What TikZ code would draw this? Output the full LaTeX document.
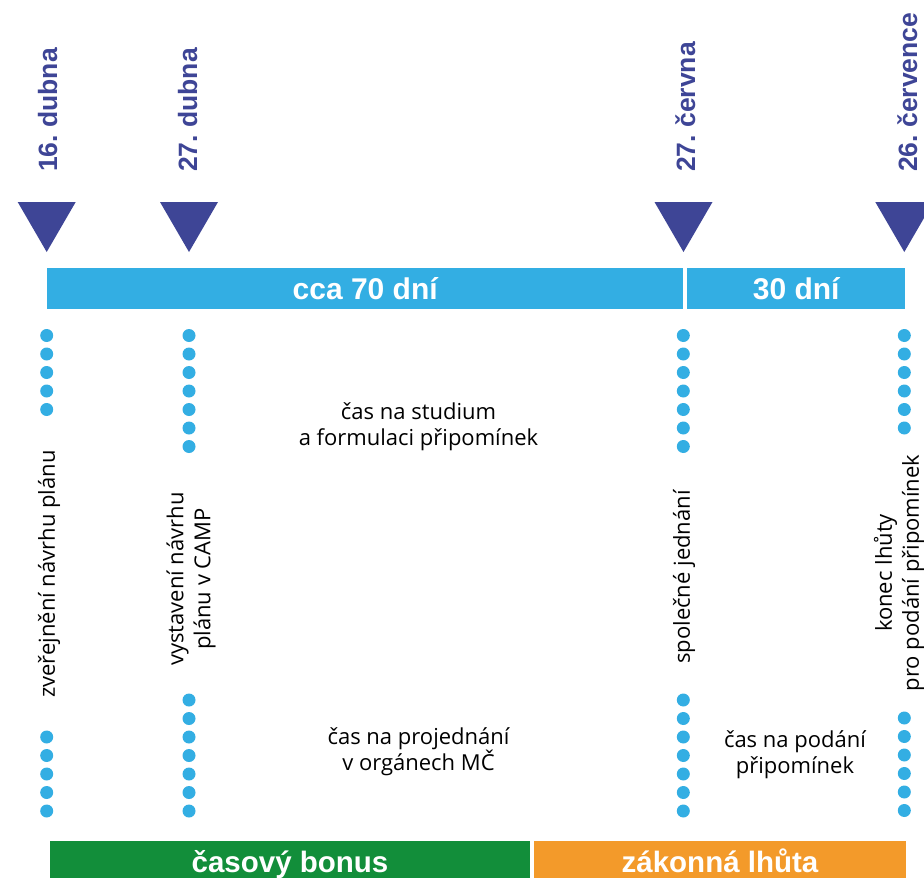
\documentclass[tikz,border=0pt]{standalone}
\usepackage{fontspec}
\setmainfont{Open Sans}
\newfontfamily\bfam{Liberation Sans}
\definecolor{tribl}{HTML}{3E4596}
\definecolor{skybl}{HTML}{33AEE3}
\definecolor{grn}{HTML}{128E3A}
\definecolor{org}{HTML}{F39A2A}
\frenchspacing
\begin{document}
\begin{tikzpicture}[x=1pt,y=-1pt,
  datelbl/.style={rotate=90,anchor=base west,inner sep=0pt,text=tribl,font=\bfam\bfseries\fontsize{26.5}{30}\selectfont},
  vlbl/.style={rotate=90,align=center,inner sep=0pt,font=\fontsize{22}{27}\selectfont},
  hlbl/.style={align=center,inner sep=0pt,font=\fontsize{22}{26}\selectfont},
  barlbl/.style={text=white,inner sep=0pt,font=\bfam\bfseries\fontsize{30}{36}\selectfont},
  botlbl/.style={text=white,inner sep=0pt,anchor=base,font=\bfam\bfseries\fontsize{29.5}{36}\selectfont},
  bar/.style={inner sep=0pt,anchor=north west},
  dotc/.style={fill=skybl},
]
\clip (0,0) rectangle (924,878);
\fill[white] (0,0) rectangle (924,878);
% triangles
\foreach \x in {46.7,189,683.5,904.3}
  \fill[tribl] (\x-29,202) -- (\x+29,202) -- (\x,252) -- cycle;
% date labels
\node[datelbl] (d1) at (57,172) {16. dubna};
\node[datelbl] (d2) at (197,172) {27. dubna};
\node[datelbl] (d3) at (695,172) {27. června};
\node[datelbl] (d4) at (917,172) {26. července};
% blue bars
\node[bar,fill=skybl,minimum width=636pt,minimum height=41pt,barlbl] (b1) at (47,268) {cca 70 dní};
\node[bar,fill=skybl,minimum width=218pt,minimum height=41pt,barlbl] (b2) at (687,268) {30 dní};
% dots
\foreach \x/\n in {46.7/4,189/6,683.3/6,904.3/5}
  \foreach \k in {0,...,\n}
    \fill[dotc] (\x,335.5+18.5*\k) circle (6.5);
\foreach \x/\n/\s in {46.7/4/737,189/6/700,683.3/6/700,904.3/5/718}
  \foreach \k in {0,...,\n}
    \fill[dotc] (\x,\s+18.5*\k) circle (6.5);
% vertical labels
\node[vlbl] (v1) at (49,574) {zveřejnění návrhu plánu};
\node[vlbl] (v2) at (191,579) {vystavení návrhu\\plánu v CAMP};
\node[vlbl] (v3) at (684,577) {společné jednání};
\node[vlbl] (v4) at (899,573) {konec lhůty\\pro podání připomínek};
% middle labels
\node[hlbl] (m1) at (418.5,427) {čas na studium\\a formulaci připomínek};
\node[hlbl] (m2) at (418.5,752) {čas na projednání\\v orgánech MČ};
\node[hlbl] (m3) at (795,755) {čas na podání\\připomínek};
% bottom bars
\node[bar,fill=grn,minimum width=480pt,minimum height=50pt] (g) at (50,841) {};
\node[bar,fill=org,minimum width=372pt,minimum height=50pt] (o) at (534,841) {};
\node[botlbl] (gl) at (290,872) {časový bonus};
\node[botlbl] (ol) at (720,872) {zákonná lhůta};
\end{tikzpicture}
\end{document}
